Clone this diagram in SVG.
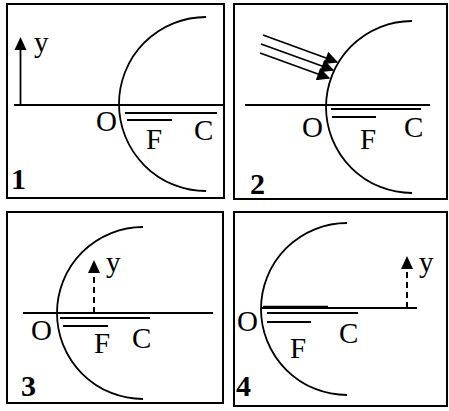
<svg xmlns="http://www.w3.org/2000/svg" width="449" height="411" viewBox="0 0 449 411">
<defs>
<style>
.box{fill:none;stroke:#000;stroke-width:2}
.ln{stroke:#000;stroke-width:1.8;fill:none}
.arc{stroke:#000;stroke-width:1.8;fill:none}
.dash{stroke:#000;stroke-width:2;stroke-dasharray:6,4;fill:none}
.lbl{font-family:"Liberation Serif","Times New Roman",serif;font-size:29px;fill:#000}
.num{font-family:"Liberation Serif","Times New Roman",serif;font-size:30px;font-weight:bold;fill:#000}
</style>
<marker id="ah" viewBox="0 0 10 10" refX="9" refY="5" markerWidth="16" markerHeight="13" markerUnits="userSpaceOnUse" orient="auto">
<path d="M0,0 L10,5 L0,10 z" fill="#000"/>
</marker>
</defs>
<rect width="449" height="411" fill="#fff"/>
<g id="panel1">
<rect class="box" x="7" y="4" width="217" height="194"/>
<line class="ln" x1="14" y1="105" x2="224" y2="105"/>
<line class="ln" x1="20.5" y1="105" x2="20.5" y2="50"/>
<path d="M20.5,37 L14.5,50 L26.5,50 z" fill="#000"/>
<text class="lbl" x="34" y="52">y</text>
<path class="arc" d="M206,17 A87,87 0 0 0 206,191"/>
<line class="ln" x1="125" y1="113" x2="217" y2="113"/>
<line class="ln" x1="127" y1="120" x2="172" y2="120"/>
<text class="lbl" x="96" y="131">O</text>
<text class="lbl" x="146" y="149">F</text>
<text class="lbl" x="194" y="140">C</text>
<text class="num" x="11" y="189">1</text>
</g>
<g id="panel2">
<rect class="box" x="234" y="4" width="213" height="195"/>
<line class="ln" x1="245" y1="105" x2="430" y2="105"/>
<path class="arc" d="M412,21 A86,86 0 0 0 412,193"/>
<line class="ln" x1="331" y1="109" x2="421" y2="109"/>
<line class="ln" x1="332" y1="117" x2="376" y2="117"/>
<text class="lbl" x="302" y="137">O</text>
<text class="lbl" x="360" y="149">F</text>
<text class="lbl" x="404" y="137">C</text>
<text class="num" x="250" y="194">2</text>
</g>
<g id="panel3">
<rect class="box" x="7" y="212" width="216" height="191"/>
<line class="ln" x1="23" y1="313" x2="213" y2="313"/>
<path class="arc" d="M143,227 A86,86 0 0 0 143,399"/>
<line class="dash" x1="94" y1="313" x2="94" y2="272"/>
<path d="M94,260 L88,273 L100,273 z" fill="#000"/>
<text class="lbl" x="106" y="272">y</text>
<line class="ln" x1="60" y1="318" x2="150" y2="318"/>
<line class="ln" x1="63" y1="326" x2="108" y2="326"/>
<text class="lbl" x="31" y="340">O</text>
<text class="lbl" x="94" y="353">F</text>
<text class="lbl" x="132" y="348">C</text>
<text class="num" x="21" y="396">3</text>
</g>
<g id="panel4">
<rect class="box" x="234" y="212" width="213" height="194"/>
<line class="ln" x1="262" y1="308" x2="417" y2="308"/>
<line class="ln" x1="263" y1="307" x2="328" y2="307" style="stroke-width:2.5"/>
<path class="arc" d="M347,223 A86,86 0 0 0 347,395"/>
<line class="dash" x1="407" y1="308" x2="407" y2="268"/>
<path d="M407,256 L401,269 L413,269 z" fill="#000"/>
<text class="lbl" x="419" y="272">y</text>
<line class="ln" x1="267" y1="313" x2="358" y2="313"/>
<line class="ln" x1="267" y1="322" x2="311" y2="322"/>
<text class="lbl" x="237" y="331">O</text>
<text class="lbl" x="290" y="358">F</text>
<text class="lbl" x="339" y="343">C</text>
<text class="num" x="236" y="396">4</text>
</g>
<g id="connectors">
<line class="ln" x1="263" y1="35" x2="337" y2="62" marker-end="url(#ah)"/>
<line class="ln" x1="261" y1="44" x2="333" y2="70" marker-end="url(#ah)"/>
<line class="ln" x1="260" y1="53" x2="329" y2="78" marker-end="url(#ah)"/>
</g>
</svg>
